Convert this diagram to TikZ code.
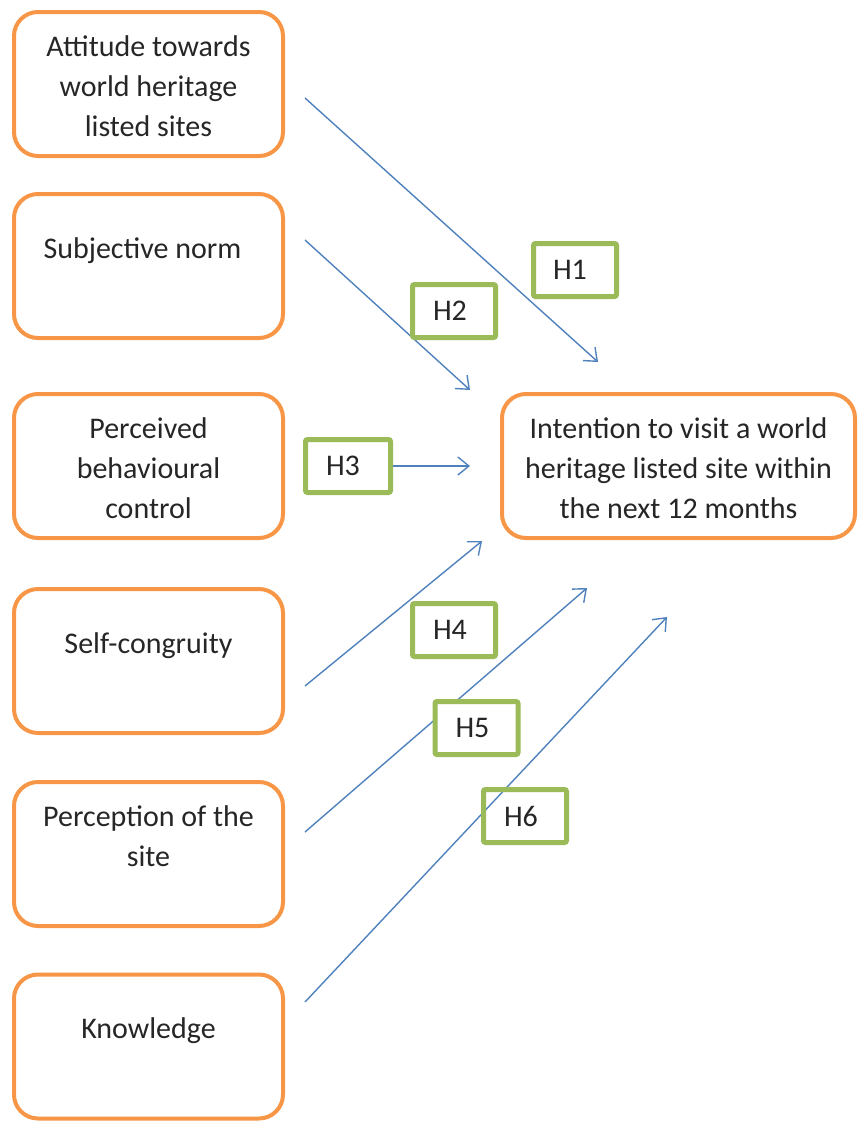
\documentclass[tikz,border=0pt]{standalone}
\usepackage{fontspec}
\setmainfont{Carlito}
\usetikzlibrary{arrows.meta}
\definecolor{boxorange}{HTML}{F79646}
\definecolor{hgreen}{HTML}{9BBB59}
\definecolor{arrblue}{HTML}{4F81BD}
\newcommand\lnstrut{\rule[-8pt]{0pt}{40pt}}
\begin{document}
\begin{tikzpicture}[x=1pt,y=-1pt,
  obox/.style={draw=boxorange, line width=4pt, rounded corners=24pt,
    minimum width=269pt, minimum height=144pt, align=center, inner sep=0pt,
    font=\fontsize{30}{40}\selectfont, text=black!85},
  hbox/.style={draw=hgreen, line width=5pt, rounded corners=2pt,
    minimum width=83pt, minimum height=53pt, inner sep=0pt,
    font=\fontsize{30}{40}\selectfont, text=black!85},
  conn/.style={draw=arrblue, line width=1.4pt,
    -{Straight Barb[length=11pt,width=18pt,line width=1.4pt]}}]
\useasboundingbox (0,0) rectangle (857,1122);
% source boxes
\node[obox] (att) at (148.5,84) {\lnstrut Attitude towards\\\lnstrut world heritage\\\lnstrut listed sites};
\node[obox] (sub) at (148.5,266) {\lnstrut Subjective norm\kern12pt\\\lnstrut};
\node[obox] (pbc) at (148.5,466) {\lnstrut Perceived\\\lnstrut behavioural\\\lnstrut control};
\node[obox] (sc) at (148.5,661) {\lnstrut Self-congruity\\\lnstrut};
\node[obox] (pos) at (148.5,854) {\lnstrut Perception of the\\\lnstrut site\\\lnstrut};
\node[obox] (kn) at (148.5,1046.5) {\lnstrut Knowledge\\\lnstrut};
% target
\node[obox, minimum width=353pt] (int) at (678.5,466) {\lnstrut Intention to visit a world\\\lnstrut heritage listed site within\\\lnstrut the next 12 months};
% connector coordinates
\coordinate (s1) at (305,98);   \coordinate (e1) at (598,362);
\coordinate (s2) at (305,240);  \coordinate (e2) at (470,390);
\coordinate (e3) at (470,466);
\coordinate (s4) at (305,686);  \coordinate (e4) at (482,541);
\coordinate (s5) at (305,832);  \coordinate (e5) at (587,588);
\coordinate (s6) at (305,1002); \coordinate (e6) at (667,617);
\node[hbox, minimum width=85pt] (h3) at (348,466) {H3\kern10pt};
\draw[conn] (s1) -- (e1);
\draw[conn] (s2) -- (e2);
\draw[conn] (h3.east) -- (e3);
\draw[conn] (s4) -- (e4);
\draw[conn] (s5) -- (e5);
\draw[conn] (s6) -- (e6);
% hypothesis labels
\node[hbox] (h1) at (575,270) {H1\kern10pt};
\node[hbox] (h2) at (454,311) {H2\kern8pt};
\node[hbox, fill=white] (h4) at (454,630) {H4\kern8pt};
\node[hbox, fill=white] (h5) at (476.5,728) {H5\kern8pt};
\node[hbox] (h6) at (525,816) {H6\kern8pt};
\end{tikzpicture}
\end{document}
